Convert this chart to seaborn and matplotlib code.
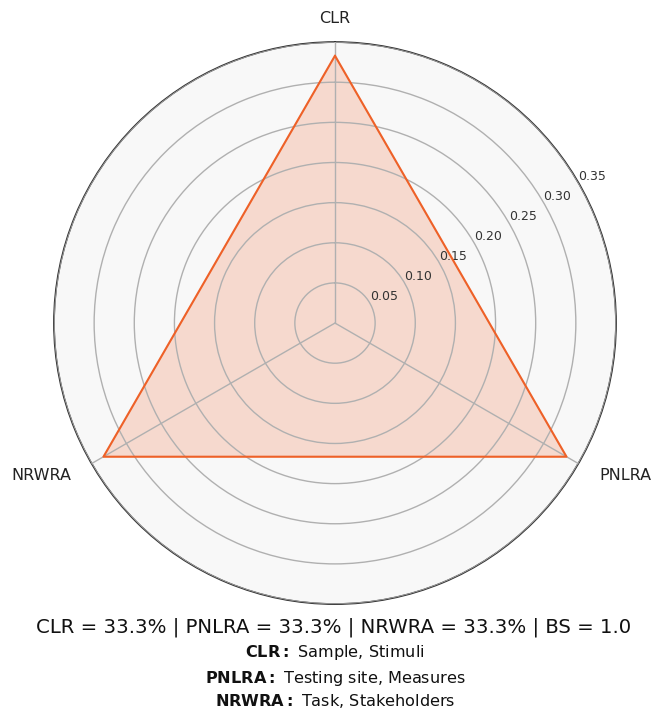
import numpy as np
import pandas as pd
import matplotlib
matplotlib.use("Agg")
import matplotlib.pyplot as plt
import seaborn as sns

# data
categories = ["CLR", "PNLRA", "NRWRA"]
values = [0.333, 0.333, 0.333]
r_ticks = [0.05, 0.10, 0.15, 0.20, 0.25, 0.30, 0.35]
summary = "CLR = 33.3% | PNLRA = 33.3% | NRWRA = 33.3% | BS = 1.0"
legend_keys = ["CLR", "PNLRA", "NRWRA"]
legend_vals = ["Sample, Stimuli", "Testing site, Measures", "Task, Stakeholders"]

sns.set_style("white")
plt.rcParams['font.family'] = ['DejaVu Sans']
plt.rcParams['mathtext.fontset'] = 'dejavusans'

line_color = "#EE6128"

def main():
    fig = plt.figure(figsize=(6.53, 7.09), dpi=100)
    ax = fig.add_axes([0.0827, 0.148, 0.8606, 0.7927], projection="polar")
    ax.set_theta_offset(np.pi / 2)
    ax.set_theta_direction(-1)
    ax.set_facecolor("#f8f8f8")
    ax.set_axisbelow(False)

    n = len(categories)
    angles = [i * 2 * np.pi / n for i in range(n)]
    df = pd.DataFrame({"angle": angles + angles[:1], "value": values + values[:1]})

    ax.fill(df["angle"], df["value"], color=line_color, alpha=0.2, zorder=2)
    sns.lineplot(data=df, x="angle", y="value", sort=False, estimator=None,
                 color=line_color, linewidth=1.5, ax=ax, zorder=3)

    ylim = 0.35
    ax.set_ylim(0, ylim)
    ax.set_xticks(angles)
    ax.set_xticklabels([])
    # category labels just outside the rim
    r_lab = ylim * 1.085
    for ang, cat in zip(angles, categories):
        s = np.sin(ang)
        ha = "center" if abs(s) < 0.1 else ("left" if s > 0 else "right")
        ax.text(ang, r_lab, cat, ha=ha, va="center", fontsize=11.5,
                color="#222222", clip_on=False)

    ax.set_yticks(r_ticks)
    ax.set_yticklabels([f"{t:.2f}" for t in r_ticks], fontsize=9, color="#333333")
    ax.set_rlabel_position(60)
    ax.set_xlabel("")
    ax.set_ylabel("")
    ax.grid(True, color="#b0b0b0", linewidth=1)
    ax.spines["polar"].set_color("#333333")
    ax.spines["polar"].set_linewidth(1.3)

    fig.text(334 / 653, 1 - 627 / 709, summary, ha="center", va="center",
             fontsize=14.2, color="#111111")

    ys = [653, 678, 701]
    for key, val, y in zip(legend_keys, legend_vals, ys):
        fig.text(335 / 653, 1 - y / 709, r"$\bf{" + key + r":}$ " + val,
                 ha="center", va="center", fontsize=11.6, color="#111111")

    fig.savefig("out.png", dpi=100)

if __name__ == "__main__":
    main()
